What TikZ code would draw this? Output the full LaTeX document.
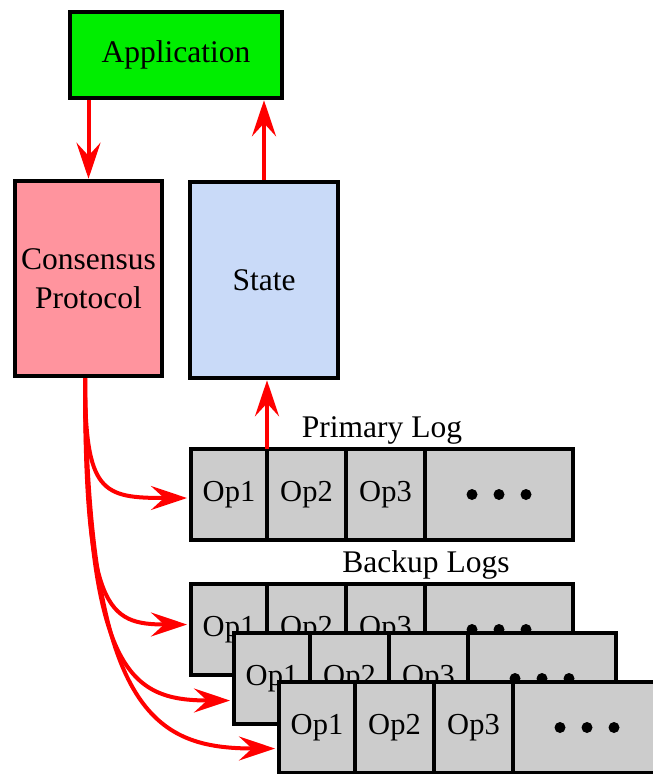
\documentclass[tikz,border=0pt]{standalone}
\usepackage{fontspec}
\setmainfont{Liberation Serif}
\usetikzlibrary{arrows.meta,calc}

\definecolor{appgreen}{RGB}{0,238,0}
\definecolor{conspink}{RGB}{255,148,158}
\definecolor{stateblue}{RGB}{201,218,248}
\definecolor{opgrey}{RGB}{204,204,204}

% One log: #1 name prefix, #2/#3 outer top-left corner
\newcommand\oplog[3]{%
  \node[cell, minimum width=76pt]  (#1a) at (#2+2,#3+2)   {Op1};
  \node[cell, minimum width=79pt]  (#1b) at (#2+78,#3+2)  {Op2};
  \node[cell, minimum width=79pt]  (#1c) at (#2+157,#3+2) {Op3};
  \node[cell, minimum width=148pt] (#1d) at (#2+236,#3+2) {};
  \foreach \dx in {-27,0,27}
    \fill ($(#1d.center)+(\dx,0)$) circle (5.5pt);
}

\begin{document}
\begin{tikzpicture}[x=1pt,y=-1pt,
  box/.style={draw=black, line width=4.5pt, rectangle, inner sep=0pt,
    align=center, font=\fontsize{31.5}{39}\selectfont},
  cell/.style={draw=black, fill=opgrey, line width=4.5pt, rectangle,
    anchor=north west, outer sep=0pt, inner sep=0pt, minimum height=91pt,
    font=\fontsize{30.5}{36}\selectfont},
  lbl/.style={anchor=base, inner sep=0pt, font=\fontsize{31.5}{39}\selectfont},
  flow/.style={draw=red, line width=4pt,
    -{Stealth[length=36pt,width=24pt,inset=13pt]}}]
\useasboundingbox (0,0) rectangle (653,774);
\clip (0,0) rectangle (653,774);

% main components
\node[box, fill=appgreen, minimum width=212pt, minimum height=86pt]
  (app) at (176,55) {Application};
\node[box, fill=conspink, minimum width=147pt, minimum height=195pt]
  (cp) at (88.5,278.5) {Consensus\\Protocol};
\node[box, fill=stateblue, minimum width=148pt, minimum height=196pt]
  (st) at (264,280) {State};

% logs
\node[lbl] (plbl) at (382,437) {Primary Log};
\oplog{p}{189}{447}
\node[lbl] (blbl) at (426,572) {Backup Logs};
\oplog{q}{189}{582}
\oplog{r}{232}{631}
\oplog{s}{277}{680}

% flows between components
\draw[flow] (cp.north |- app.south) -- (cp.north);
\draw[flow] (st.north) -- (st.north |- app.south);
\draw[flow] (pa.north east) -- (pa.north east |- st.south);

\coordinate (cpout) at ($(cp.south)+(-3.5,0)$);
\coordinate (pin) at ($(pa.west)+(-4,3.5)$);
\coordinate (qin) at ($(qa.west)+(-4,-5)$);
\coordinate (rin) at ($(ra.west)+(-4,22)$);
\coordinate (sin) at ($(sa.west)+(-4,21)$);

\draw[flow] (cpout) .. controls ($(cpout)+(0,115)$) and ($(pin)+(-85,0)$) .. (pin);
\draw[flow] (cpout) .. controls ($(cpout)+(0,232)$) and ($(qin)+(-80,0)$) .. (qin);
\draw[flow] (cpout) .. controls ($(cpout)+(1,295)$) and ($(rin)+(-100,0)$) .. (rin);
\draw[flow] (cpout) .. controls ($(cpout)+(3,335)$) and ($(sin)+(-120,0)$) .. (sin);
\end{tikzpicture}
\end{document}
